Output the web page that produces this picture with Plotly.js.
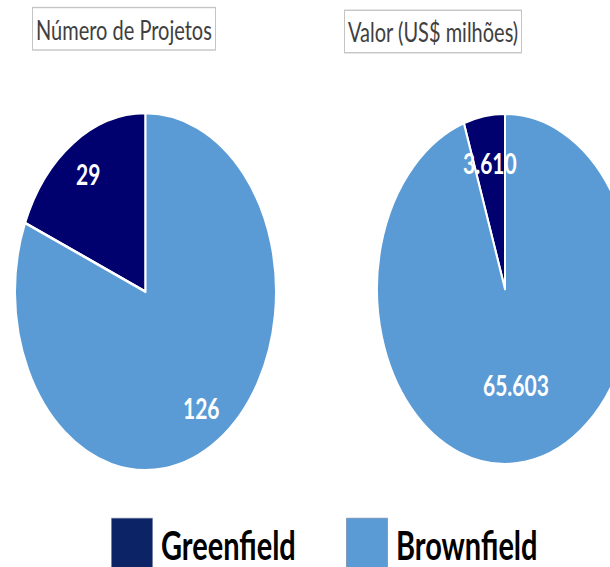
<!DOCTYPE html>
<html><head><meta charset="utf-8">
<script src="https://cdn.plot.ly/plotly-3.0.1.min.js"></script>
<style>
html,body{margin:0;padding:0;overflow:hidden;background:#fff;width:610px;height:567px}
#wrap{width:610px;height:567px;overflow:hidden;position:relative}
#chart{width:640px;height:440px;transform-origin:0 0;transform:scaleY(1.3696)}
</style></head><body><div id="wrap"><div id="chart"></div></div>
<script>
const categories = ["Greenfield", "Brownfield"];
const projectCounts = [29, 126];
const projectValues = [3610, 65603];
const chartTitles = ["Número de Projetos", "Valor (US$ milhões)"];
const sliceColors = ["#00006e", "#5b9bd5"];

const W = 640, H = 440;
const pies = [
  {values: projectCounts, cx: 145.5, cy: 213, R: 130.5, labelR: [0.80, 0.78], titleX: 124, titleY: 21},
  {values: projectValues, cx: 505, cy: 211, R: 128, labelR: [0.73, 0.55], titleX: 433, titleY: 23}
];
const fmt = v => String(v).replace(/\B(?=(\d{3})+(?!\d))/g, '.');

const data = [];
const annotations = [];
pies.forEach((p, k) => {
  const total = p.values.reduce((a, b) => a + b, 0);
  const R = p.R;
  data.push({
    type: 'pie', labels: categories, values: p.values, sort: false,
    direction: 'counterclockwise', rotation: -360 * p.values[0] / total,
    marker: {colors: sliceColors, line: {color: '#ffffff', width: 2}},
    textinfo: 'none', hoverinfo: 'label+value',
    domain: {x: [(p.cx - R) / W, (p.cx + R) / W], y: [1 - (p.cy + R) / H, 1 - (p.cy - R) / H]}
  });
  let cum = 0;
  p.values.forEach((v, i) => {
    const th = 2 * Math.PI * (cum + v / 2) / total;
    cum += v;
    const x = p.cx - p.labelR[i] * R * Math.sin(th);
    const y = p.cy - p.labelR[i] * R * Math.cos(th);
    annotations.push({xref: 'paper', yref: 'paper', x: x / W, y: 1 - y / H, showarrow: false,
      text: fmt(v), font: {family: 'Lato, sans-serif', size: 21, color: '#ffffff', weight: 700},
      xanchor: 'center', yanchor: 'middle'});
  });
  annotations.push({xref: 'paper', yref: 'paper', x: p.titleX / W, y: 1 - p.titleY / H, showarrow: false,
    text: chartTitles[k], font: {family: 'Lato, sans-serif', size: 20, color: '#404040'},
    bordercolor: '#c4c4c4', borderwidth: 1, borderpad: 3, bgcolor: '#ffffff',
    xanchor: 'center', yanchor: 'middle'});
});

const layout = {
  width: W, height: H, margin: {l: 0, r: 0, t: 0, b: 0, autoexpand: false},
  paper_bgcolor: '#ffffff', plot_bgcolor: '#ffffff',
  showlegend: true,
  legend: {orientation: 'h', x: 102 / W, xanchor: 'left', y: 1 - 372 / H, yanchor: 'top',
    font: {family: 'Lato, sans-serif', size: 29, color: '#000000', weight: 700},
    itemwidth: 49, entrywidth: 171, entrywidthmode: 'pixels', traceorder: 'normal',
    bgcolor: 'rgba(0,0,0,0)'},
  annotations: annotations
};

Plotly.newPlot('chart', data, layout, {staticPlot: true, displayModeBar: false}).then(gd => {
  gd.querySelectorAll('.legend path.legendpie').forEach((p, i) => {
    p.setAttribute('d', 'M-20,-19H21V19H-20Z');
    p.style.strokeWidth = '0.5px';
    p.style.stroke = '#6a7a9a';
    if (i === 0) p.style.fill = '#0c2466';
  });
});
</script></body></html>
